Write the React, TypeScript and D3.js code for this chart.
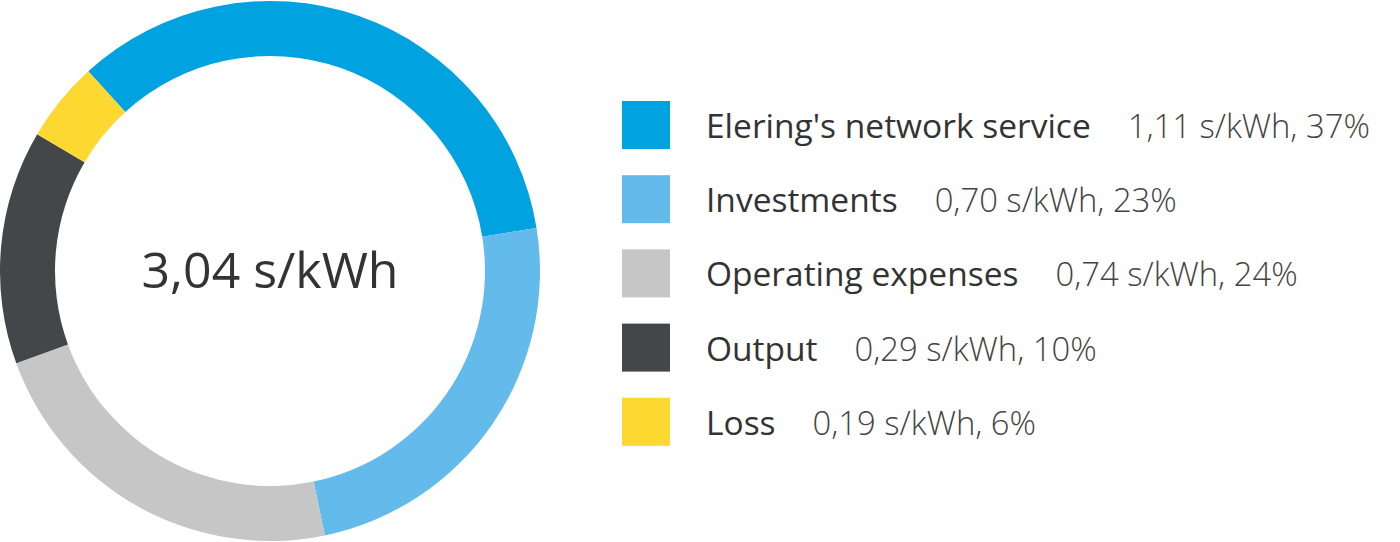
import React, { useEffect, useRef } from 'react';
import * as d3 from 'd3';

const categories = ["Elering's network service", 'Investments', 'Operating expenses', 'Output', 'Loss'];
const valueLabels = ['1,11 s/kWh, 37%', '0,70 s/kWh, 23%', '0,74 s/kWh, 24%', '0,29 s/kWh, 10%', '0,19 s/kWh, 6%'];
// share of the ring each segment takes as drawn in the picture (%)
const ringShares = [34.2, 24.3, 22.7, 14.0, 4.8];
const colors = ['#00a2df', '#62bbea', '#c6c6c6', '#44474a', '#fcd830'];
const totalLabel = '3,04 s/kWh';

const App: React.FC = () => {
  const svgRef = useRef<SVGSVGElement | null>(null);

  useEffect(() => {
    if (!svgRef.current) return;
    const svg = d3.select(svgRef.current);
    svg.selectAll('*').remove();

    const width = 1400;
    const height = 542;
    const cx = 270;
    const cy = 271;
    const outerR = 270;
    const innerR = 215;
    const start = (-42.3 * Math.PI) / 180;

    svg.attr('width', width).attr('height', height);

    const pie = d3.pie<number>()
      .sort(null)
      .value(d => d)
      .startAngle(start)
      .endAngle(start + Math.PI * 2);

    const arc = d3.arc<d3.PieArcDatum<number>>()
      .innerRadius(innerR)
      .outerRadius(outerR);

    const g = svg.append('g').attr('transform', `translate(${cx},${cy})`);
    g.selectAll('path')
      .data(pie(ringShares))
      .enter().append('path')
      .attr('d', arc)
      .attr('fill', (_, i) => colors[i]);

    g.append('text')
      .attr('text-anchor', 'middle')
      .attr('y', 17)
      .attr('font-family', '"Open Sans", sans-serif')
      .attr('font-size', 50)
      .attr('fill', '#333')
      .text(totalLabel);

    const y = d3.scaleBand()
      .domain(categories)
      .range([101, 101 + 74.2 * categories.length]);

    const rows = svg.append('g')
      .selectAll('g')
      .data(categories)
      .enter().append('g')
      .attr('transform', d => `translate(622,${y(d)})`);

    rows.append('rect')
      .attr('width', 48)
      .attr('height', 48)
      .attr('fill', (_, i) => colors[i]);

    const txt = rows.append('text')
      .attr('x', 84)
      .attr('y', 37)
      .attr('font-family', '"Open Sans", sans-serif')
      .attr('font-size', 33.5);
    txt.append('tspan')
      .attr('fill', '#333')
      .text(d => d);
    txt.append('tspan')
      .attr('dx', 37)
      .attr('fill', '#444')
      .attr('font-size', 32.8)
      .attr('font-weight', 300)
      .text((_, i) => valueLabels[i]);
  }, []);

  return <svg ref={svgRef} style={{ display: 'block', position: 'absolute', left: 0, top: 0 }} />;
};

export default App;
